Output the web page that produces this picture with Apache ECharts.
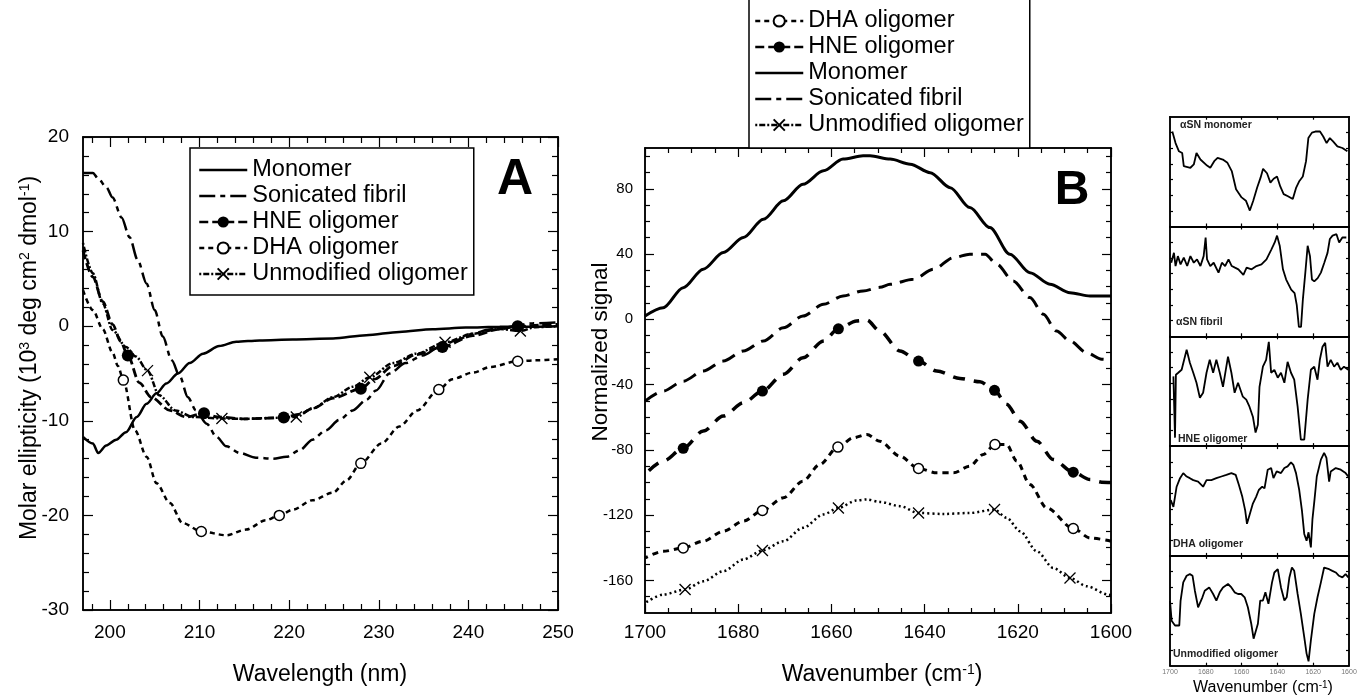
<!DOCTYPE html>
<html>
<head>
<meta charset="utf-8">
<title>CD and FTIR spectra of aSN species</title>
<script src="https://cdn.jsdelivr.net/npm/echarts@6/dist/echarts.min.js"></script>
<style>
  html, body { margin: 0; padding: 0; background: #fff; }
  #chart { width: 1361px; height: 698px; }
</style>
</head>
<body>
<div id="chart"></div>
<script>
var FONT = '"Liberation Sans", Arial, Helvetica, sans-serif';

// ---- panel A : far-UV CD, [wavelength nm, molar ellipticity 10^3 deg cm2 dmol-1]
var monomerA = [[197,-11.7],[198.1,-12.4],[198.7,-13.4],[199.6,-12.6],[200.7,-12.0],[201.8,-11.2],[203,-9.6],[204.1,-8.2],[205.2,-7.1],[206.3,-6.05],[207.6,-5.0],[208.9,-3.9],[210.4,-2.9],[212.2,-2.1],[214.1,-1.65],[216.7,-1.5],[220.4,-1.4],[224.9,-1.3],[228.6,-0.95],[232.3,-0.6],[236,-0.32],[239.7,-0.15],[243.5,-0.07],[247.2,-0.05],[250,0]];
var fibrilA = [[197,16.2],[198.1,16.2],[198.7,15.6],[199.6,14.7],[200.3,13.6],[201.3,11.5],[202.2,9.4],[203.1,7.0],[204.1,4.5],[205,1.7],[205.9,-1.1],[206.9,-3.6],[207.8,-5.3],[208.7,-7.5],[209.6,-8.9],[210.8,-10.3],[211.9,-11.7],[213,-12.7],[214.5,-13.4],[216.3,-13.9],[218.2,-14.0],[219.7,-13.8],[221.2,-13.1],[222.6,-12.0],[224.1,-11.0],[225.6,-9.9],[227.1,-8.9],[228.6,-7.8],[229.7,-6.8],[231.2,-5.0],[233,-3.9],[234.9,-3.1],[236.8,-2.2],[238.6,-1.5],[240.5,-0.8],[242.3,-0.35],[244.2,-0.1],[247.2,0.3],[250,0.4]];
var hneA = [[197,8.0],[198.1,5.2],[199.2,2.6],[200.3,0.2],[201.2,-1.6],[203.3,-6.0],[204.6,-7.5],[206.7,-8.9],[208.5,-9.6],[212,-9.6],[215,-9.8],[217,-9.75],[221.2,-9.3],[222.6,-8.7],[224.9,-7.6],[229.5,-5.6],[231.6,-4.2],[234.2,-3.0],[240.5,-1.0],[243.5,-0.3],[248,0.1],[250,0.2]];
var hneMarksA = [[202.0,-3.1],[210.5,-9.2],[219.4,-9.65],[228.0,-6.6],[237.1,-2.2],[245.5,0]];
var dhaA = [[197,3.8],[198.1,1.7],[199.2,-0.3],[200.3,-2.8],[200.9,-4.2],[202.8,-11.0],[204.1,-13.8],[205.2,-16.6],[206.7,-18.7],[208.1,-20.8],[213,-22.1],[215.2,-21.5],[217.4,-20.5],[220.4,-19.4],[222.6,-18.4],[224.9,-17.6],[226.4,-16.3],[230.3,-12.4],[232.3,-10.6],[234.3,-8.9],[238.2,-5.6],[240.5,-4.9],[242.5,-4.3],[247.5,-3.6],[250,-3.5]];
var dhaMarksA = [[201.5,-5.7],[210.2,-21.7],[218.9,-20.0],[228.0,-14.5],[236.7,-6.7],[245.5,-3.7]];
var unmodA = [[197,8.8],[198.1,5.6],[199.2,2.4],[200.3,-0.4],[201.8,-2.2],[202.9,-3.2],[205.5,-7.3],[207.3,-8.9],[209.3,-9.6],[215,-9.8],[218,-9.7],[222.6,-8.7],[224.9,-7.5],[227.1,-6.4],[231.6,-3.9],[234.2,-2.9],[240.5,-0.8],[243.5,-0.3],[247.5,-0.1],[250,0]];
var unmodMarksA = [[204.2,-4.7],[212.5,-9.75],[220.8,-9.6],[229,-5.4],[237.4,-1.7],[245.8,-0.5]];

// ---- panel B : amide I band, [wavenumber cm-1, normalized signal]
var monomerB = [[1700,2.0],[1696.1,7.1],[1691.8,19.4],[1687.5,30.7],[1683.2,40.9],[1678.9,50.1],[1674.6,61.3],[1670.3,72.6],[1666.1,82.8],[1661.7,91],[1657.5,98.2],[1653.2,100.2],[1651.7,100.2],[1647.4,98.2],[1643.1,95.1],[1638.8,89.9],[1634.5,80.7],[1630.3,68.5],[1626,56.2],[1621.7,39.9],[1617.4,28.6],[1613.1,21.5],[1608.8,16.3],[1604.5,14.3],[1600,14.3]];
var fibrilB = [[1700,-50.1],[1696.1,-44],[1691.8,-37.9],[1687.5,-31.7],[1683.2,-25.6],[1678.9,-19.4],[1674.6,-13.3],[1670.3,-5.2],[1666.1,2.0],[1661.7,9.2],[1657.5,14.3],[1653.2,17.4],[1649.6,19.6],[1647.4,21.5],[1642.4,24.5],[1638.1,30.7],[1633.8,37.8],[1630.3,39.9],[1627,39.9],[1624.5,33.7],[1621,23.5],[1617.4,13.3],[1614.5,3.1],[1611.7,-7.2],[1608.8,-13.3],[1605.2,-20.5],[1602,-24.5],[1600,-25]];
var hneB = [[1700,-95.1],[1696.1,-86.9],[1687.5,-68.5],[1683.2,-59.3],[1678.9,-51.2],[1670.3,-33.7],[1666.1,-23.6],[1661.7,-13.3],[1654.6,-1.0],[1652.4,-0.4],[1649.6,-7.2],[1645.3,-19.4],[1637.4,-31.7],[1632.4,-36.2],[1628.1,-38.3],[1622.4,-52.1],[1619.5,-62.4],[1615.9,-74.7],[1612.4,-85.9],[1604.5,-98.2],[1602,-99.8],[1600,-100]];
var hneMarksB = [[1691.8,-79.1],[1674.8,-44],[1658.5,-5.8],[1641.3,-25.6],[1625,-43.5],[1608.1,-93.7]];
var dhaB = [[1700,-146.3],[1696.1,-142.2],[1687.5,-136],[1683.2,-129.9],[1678.9,-123.7],[1670.3,-109.4],[1666.1,-99.2],[1662.5,-89],[1655.3,-72.6],[1652.4,-70.6],[1649.6,-74.7],[1645.3,-83.9],[1637.4,-94.1],[1633.8,-94.1],[1630.3,-90],[1627.4,-82.8],[1622.4,-76.7],[1620.2,-86.9],[1617.4,-101.2],[1613.8,-115.6],[1604.5,-134],[1600,-136]];
var dhaMarksB = [[1691.8,-140.1],[1674.8,-117.2],[1658.6,-78.3],[1641.3,-91.4],[1624.9,-76.7],[1608.1,-128.2]];
var unmodB = [[1700,-173.9],[1696.1,-168.7],[1687.5,-160.6],[1683.2,-154.4],[1678.9,-147.2],[1670.3,-136],[1666.1,-127.8],[1661.7,-119.6],[1654.6,-111],[1652.4,-110.4],[1649.6,-111.9],[1645.3,-114.5],[1636,-119.3],[1630.3,-118.7],[1622.4,-121.7],[1619.5,-129.9],[1615.9,-142.2],[1612.4,-152.4],[1605.2,-163.6],[1600.6,-168.7],[1600,-169]];
var unmodMarksB = [[1691.4,-165.6],[1674.8,-141.7],[1658.5,-115.6],[1641.3,-118.7],[1625,-116.6],[1608.8,-158.5]];

// ---- panel C : second derivative strips, [wavenumber, arbitrary units 0-100]
var monomerC = [[1698.7,86.5],[1696.9,76],[1695,68.5],[1693.2,67],[1692.3,55],[1688.6,53.5],[1686.7,56.5],[1685.2,67],[1683,61],[1679.3,55.5],[1677.5,53.5],[1675.3,59.5],[1673.4,62.5],[1670.5,61],[1667.9,58],[1665.5,50.5],[1663.1,34],[1660,26.5],[1657.6,23.5],[1655.4,14.5],[1653.5,23.5],[1651.3,35.5],[1649.4,44.5],[1648,52.5],[1645.8,48.5],[1643.9,40],[1642.1,43.5],[1640.2,45.5],[1638.4,36.5],[1636.5,29.5],[1634.1,27.5],[1631.4,25],[1629.5,35.5],[1627.7,41.5],[1625.8,45.5],[1624,59.5],[1622.7,80.5],[1620.7,85.5],[1618.8,86.5],[1616.2,86.5],[1614.4,82],[1612.5,76],[1610.7,80.5],[1608.9,77.5],[1606.5,73],[1603.7,71.5],[1600.9,68.5]];
var fibrilC = [[1699.3,67],[1697.8,76],[1696.9,64],[1695.6,73],[1694.1,65.5],[1692.3,71.7],[1690.4,64],[1688.6,73],[1686.7,67],[1684.9,70],[1683,64],[1681.2,73],[1680.1,90],[1679.3,70],[1677.5,64],[1675.6,67],[1672.9,58],[1671,67],[1669.2,64],[1667.3,70],[1665.5,64],[1663.7,62.5],[1661.8,61],[1659,56],[1657.2,62.5],[1654.4,61],[1651.7,64],[1648.9,65.5],[1646.1,70],[1643.4,79],[1641.5,85.5],[1640.2,91.7],[1638.7,82.5],[1636.9,61],[1635.1,51.7],[1632.3,42.5],[1630.4,39.4],[1629.2,28.6],[1628,8.6],[1626.8,8.6],[1625.8,33],[1624.4,58],[1623.1,82.5],[1621.8,73],[1620.7,51.7],[1619.4,50],[1617.5,53],[1615.7,58],[1613.8,67],[1612,76],[1610.7,88.6],[1609.2,91.7],[1607,93],[1605.5,85.5],[1603.7,90],[1601.5,90]];
var hneC = [[1698.1,63.5],[1697.2,7.7],[1696.7,65],[1695.4,66.8],[1693.5,69.5],[1690.7,87.7],[1688.9,75.9],[1687,66.8],[1685.2,57.7],[1683.3,44],[1681.5,48.6],[1679.6,66.8],[1677.8,78.6],[1675.9,66.8],[1674.1,78.6],[1672.2,66.8],[1670.4,54],[1667.6,81.4],[1665.7,66.8],[1663.9,48.6],[1662,57.7],[1659.3,45],[1657.4,42.3],[1655.6,35.9],[1653.7,26.8],[1652.2,12.3],[1650.9,19.5],[1650,54],[1648.1,72.3],[1646.3,78.6],[1644.8,95],[1643.5,66.8],[1641.7,69.5],[1639.8,62.3],[1638,66.8],[1636.1,57.7],[1634.3,76.8],[1632.4,66.8],[1630.6,60.5],[1628.7,35.9],[1626.9,5.9],[1625,5.9],[1623.1,42.3],[1621.3,69.5],[1619.4,72.3],[1617.6,60.5],[1616.3,78.6],[1614.8,90.5],[1613.3,94],[1612,72.3],[1610.2,78.6],[1608.3,72.3],[1606.5,75.9],[1604.6,69.5],[1602.8,72.3],[1600.4,69.5]];
var dhaC = [[1699.6,50.8],[1698.1,44.6],[1696.3,63],[1694.4,70.8],[1692.6,75.4],[1690.7,72.3],[1688.9,70.8],[1687,69],[1684.3,67.7],[1681.5,63],[1679.6,69],[1676.9,69],[1674.1,70.8],[1671.3,72.3],[1668.5,73.8],[1665.7,75.4],[1663.3,73.8],[1661.5,64.6],[1659.6,53.8],[1658,41.5],[1657,29.2],[1655.6,37],[1653.7,47.7],[1651.9,53.8],[1650.4,60],[1648.5,63],[1647.2,61.5],[1645.4,78.5],[1643.5,80],[1642.2,70.8],[1640.4,76.9],[1638,75.4],[1636.1,80],[1634.3,81.5],[1632.4,85.2],[1631.1,83],[1629.6,75.4],[1627.8,60],[1626.3,41.5],[1625,20],[1623.7,13.8],[1622.6,21.5],[1621.3,7.7],[1620.4,33.8],[1619.3,50.8],[1618,72.3],[1615.7,87.7],[1613.9,93.8],[1612.6,89.2],[1611.1,67.7],[1610.2,76.9],[1607.4,80],[1604.6,78.5],[1601.9,75.4],[1600.4,72.3]];
var unmodC = [[1700,59],[1699.1,41],[1697.2,36.6],[1694.8,36.6],[1694.1,59],[1692.6,75.9],[1690.7,81.9],[1688.9,83.4],[1687.4,81.9],[1686.1,68.3],[1684.3,53.2],[1683.3,51.7],[1681.9,62.3],[1680.6,68.3],[1678.1,71.3],[1675.9,65.3],[1674.1,59.3],[1672.2,66.8],[1670.4,71.3],[1667.6,74.4],[1665.7,71.3],[1663.9,66.8],[1662,65.3],[1660.2,65.3],[1658.3,62.3],[1656.5,53.2],[1654.6,38.2],[1653.3,24.6],[1652.2,24.6],[1650.9,38.2],[1649.6,59.3],[1648.1,59.3],[1646.7,66.8],[1645,56.3],[1643,75.9],[1641.7,84.9],[1639.8,87.9],[1638,71.3],[1636.1,59.3],[1634.8,62.3],[1633.3,80.4],[1631.9,89.4],[1630.6,86.4],[1628.7,65.3],[1626.9,47.2],[1625,26],[1623.7,11],[1622.6,4],[1621.3,23.1],[1619.4,47.2],[1617.6,62.3],[1615.7,75.9],[1613.9,89.4],[1613,91],[1611.1,87.9],[1609.3,86.4],[1607.4,84.9],[1605.6,81.9],[1603.7,80.4],[1601.9,83.4],[1600.4,80.4]];
var stripNames = ['αSN monomer', 'αSN fibril', 'HNE oligomer', 'DHA oligomer', 'Unmodified oligomer'];
var strips = [monomerC, fibrilC, hneC, dhaC, unmodC];

// legend order of each panel
var legendA = ['Monomer', 'Sonicated fibril', 'HNE oligomer', 'DHA oligomer', 'Unmodified oligomer'];
var legendB = ['DHA oligomer', 'HNE oligomer', 'Monomer', 'Sonicated fibril', 'Unmodified oligomer'];

// tick labels
var xLabA = [200, 210, 220, 230, 240, 250];
var yLabA = [-30, -20, -10, 0, 10, 20];
var xLabB = [1600, 1620, 1640, 1660, 1680, 1700];
var yLabB = [-160, -120, -80, -40, 0, 40, 80];
var xLabC = [1700, 1680, 1660, 1640, 1620, 1600];

function steps(from, to, step, skip) {
  var out = [];
  for (var v = from; v <= to + 1e-9; v += step) {
    if (!skip || Math.abs(v % skip) > 1e-9) out.push(Math.round(v * 10) / 10);
  }
  return out;
}

function plain(v) { return String(v); }

function axis(grid, side, min, max, inverse, ticks, len, labels, lab) {
  return {
    type: 'value', gridIndex: grid, position: side, min: min, max: max, inverse: inverse,
    axisLine: { show: true, onZero: false, lineStyle: { color: '#000', width: 1.5 } },
    axisTick: ticks.length ? { show: true, inside: true, length: len, customValues: ticks,
      lineStyle: { color: '#000', width: 1.2 } } : { show: false },
    axisLabel: labels ? Object.assign({ show: true, customValues: labels, color: '#000',
      fontFamily: FONT, formatter: plain }, lab) : { show: false },
    splitLine: { show: false },
    axisPointer: { show: false }
  };
}

// four axes per side pair: labelled major, minor, mirrored major, mirrored minor
function frame(grid, dim, min, max, inverse, majors, minors, labels, lab, majLen, minLen) {
  var sides = dim === 'x' ? ['bottom', 'top'] : ['left', 'right'];
  var out = [];
  sides.forEach(function (side, i) {
    out.push(axis(grid, side, min, max, inverse, majors, majLen, i === 0 ? labels : null, lab));
    out.push(axis(grid, side, min, max, inverse, minors, minLen, null));
  });
  return out;
}

var grids = [
  { left: 83, top: 137, width: 475, height: 473 },
  { left: 645, top: 148, width: 466, height: 465 }
];
var xAxes = [], yAxes = [];
xAxes = xAxes.concat(frame(0, 'x', 197, 250, false, xLabA, steps(198, 248, 2, 10), xLabA, { fontSize: 19, margin: 13 }, 10, 6));
yAxes = yAxes.concat(frame(0, 'y', -30, 20, false, yLabA, steps(-28, 18, 2, 10), yLabA, { fontSize: 19, margin: 14 }, 10, 6));
xAxes = xAxes.concat(frame(1, 'x', 1600, 1700, true, xLabB, steps(1605, 1695, 5, 20), xLabB, { fontSize: 19, margin: 10 }, 9, 5));
yAxes = yAxes.concat(frame(1, 'y', -180, 105, false, yLabB, steps(-170, 100, 10, 40), yLabB, { fontSize: 15, margin: 12 }, 9, 5));

var stripTicks = [14.3, 28.6, 42.9, 57.1, 71.4, 85.7];
for (var i = 0; i < 5; i++) {
  grids.push({ left: 1170, top: 116.7 + i * 109.8, width: 179, height: 109.8 });
  xAxes = xAxes.concat(frame(2 + i, 'x', 1600, 1700, true, [1620, 1640, 1660, 1680], [],
    i === 4 ? xLabC : null, { fontSize: 7, margin: 3, color: '#777' }, 3, 2));
  yAxes = yAxes.concat(frame(2 + i, 'y', 0, 100, false, stripTicks, [], null, null, 3, 2));
}

// curve points without symbol, marker points with the series symbol
function withMarks(curve, marks) {
  var pts = curve.map(function (p) { return { value: p, symbol: 'none' }; });
  marks.forEach(function (p) { pts.push({ value: p }); });
  pts.sort(function (a, b) { return a.value[0] - b.value[0]; });
  return pts;
}

var CROSS = 'path://M0,0L10,10M10,0L0,10';
var filled = { symbol: 'circle', size: 12, style: { color: '#000' } };
var open = { symbol: 'circle', size: 10, style: { color: '#fff', borderColor: '#000', borderWidth: 1.5 } };
var cross = { symbol: CROSS, size: 11, style: { color: 'rgba(0,0,0,0)', borderColor: '#000', borderWidth: 1.3 } };

function line(name, idx, data, width, dash, sym, smooth) {
  var s = {
    type: 'line', name: name, xAxisIndex: idx, yAxisIndex: idx, data: data,
    smooth: smooth, smoothMonotone: 'x', silent: true, symbol: 'none',
    itemStyle: { color: 'rgba(0,0,0,0)' },
    lineStyle: { color: '#000', width: width, type: dash },
    emphasis: { disabled: true }, z: 3
  };
  if (sym) {
    s.symbol = sym.symbol; s.symbolSize = sym.size; s.showSymbol = true;
    s.showAllSymbol = true; s.itemStyle = sym.style;
  }
  return s;
}

var series = [
  line('Monomer', 0, monomerA, 2.5, 'solid', null, 0.3),
  line('Sonicated fibril', 0, fibrilA, 2.5, [16, 5, 5, 5], null, 0.3),
  line('HNE oligomer', 0, withMarks(hneA, hneMarksA), 2.8, [9, 4], filled, 0.3),
  line('DHA oligomer', 0, withMarks(dhaA, dhaMarksA), 2.5, [5, 4], open, 0.3),
  line('Unmodified oligomer', 0, withMarks(unmodA, unmodMarksA), 2.5, [2, 2, 6, 2], cross, 0.3),

  line('Monomer', 4, monomerB, 3, 'solid', null, 0.3),
  line('Sonicated fibril', 4, fibrilB, 3, [14, 8], null, 0.3),
  line('HNE oligomer', 4, withMarks(hneB, hneMarksB), 3.5, [12, 9], { symbol: 'circle', size: 11, style: { color: '#000' } }, 0.3),
  line('DHA oligomer', 4, withMarks(dhaB, dhaMarksB), 3, [6, 5], open, 0.3),
  line('Unmodified oligomer', 4, withMarks(unmodB, unmodMarksB), 2.5, [2, 3], cross, 0.3)
];
strips.forEach(function (d, k) {
  series.push(line(stripNames[k], 8 + 4 * k, d, 1.8, 'solid', null, false));
});

function legend(names, left, top, pad) {
  return {
    data: names, orient: 'vertical', left: left, top: top, align: 'left',
    selectedMode: false, itemWidth: 48, itemHeight: 14, itemGap: 0, padding: pad,
    backgroundColor: '#fff', borderColor: '#000', borderWidth: 1.5,
    lineStyle: { width: 2.5 },
    textStyle: { fontSize: 23.5, lineHeight: 26, color: '#000', fontFamily: FONT }
  };
}

function label(x, y, text, size, extra) {
  return {
    type: 'text', x: x, y: y, rotation: extra && extra.rot || 0, silent: true,
    style: Object.assign({
      text: text, fontSize: size, fontFamily: FONT, fill: '#000',
      align: 'center', verticalAlign: 'middle',
      rich: { s: { fontSize: Math.round(size * 0.62), verticalAlign: 'top', fontFamily: FONT, fill: '#000' } }
    }, extra && extra.style)
  };
}

var graphics = [
  label(515, 180, 'A', 50, { style: { fontWeight: 'bold' } }),
  label(1072, 191, 'B', 48, { style: { fontWeight: 'bold' } }),
  label(30, 358, 'Molar ellipticity (10{s|3} deg cm{s|2} dmol{s|-1})', 23, { rot: Math.PI / 2 }),
  label(320, 675, 'Wavelength (nm)', 23),
  label(601, 352, 'Normalized signal', 22.5, { rot: Math.PI / 2 }),
  label(882, 675, 'Wavenumber (cm{s|-1})', 23),
  label(1263, 688, 'Wavenumber (cm{s|-1})', 16)
];
var stripLabelPos = [[1180, 125], [1176, 322], [1178, 439], [1173, 544], [1173, 654]];
stripNames.forEach(function (n, k) {
  graphics.push(label(stripLabelPos[k][0], stripLabelPos[k][1], n, 10.5,
    { style: { align: 'left', fill: '#222', fontWeight: 'bold' } }));
});

var myChart = echarts.init(document.getElementById('chart'));
myChart.setOption({
  animation: false,
  backgroundColor: '#fff',
  grid: grids,
  xAxis: xAxes,
  yAxis: yAxes,
  legend: [legend(legendA, 190, 148, [9, 6, 8, 8]), legend(legendB, 749, -2, [10, 6, 10, 5])],
  graphic: graphics,
  series: series
});
</script>
</body>
</html>
